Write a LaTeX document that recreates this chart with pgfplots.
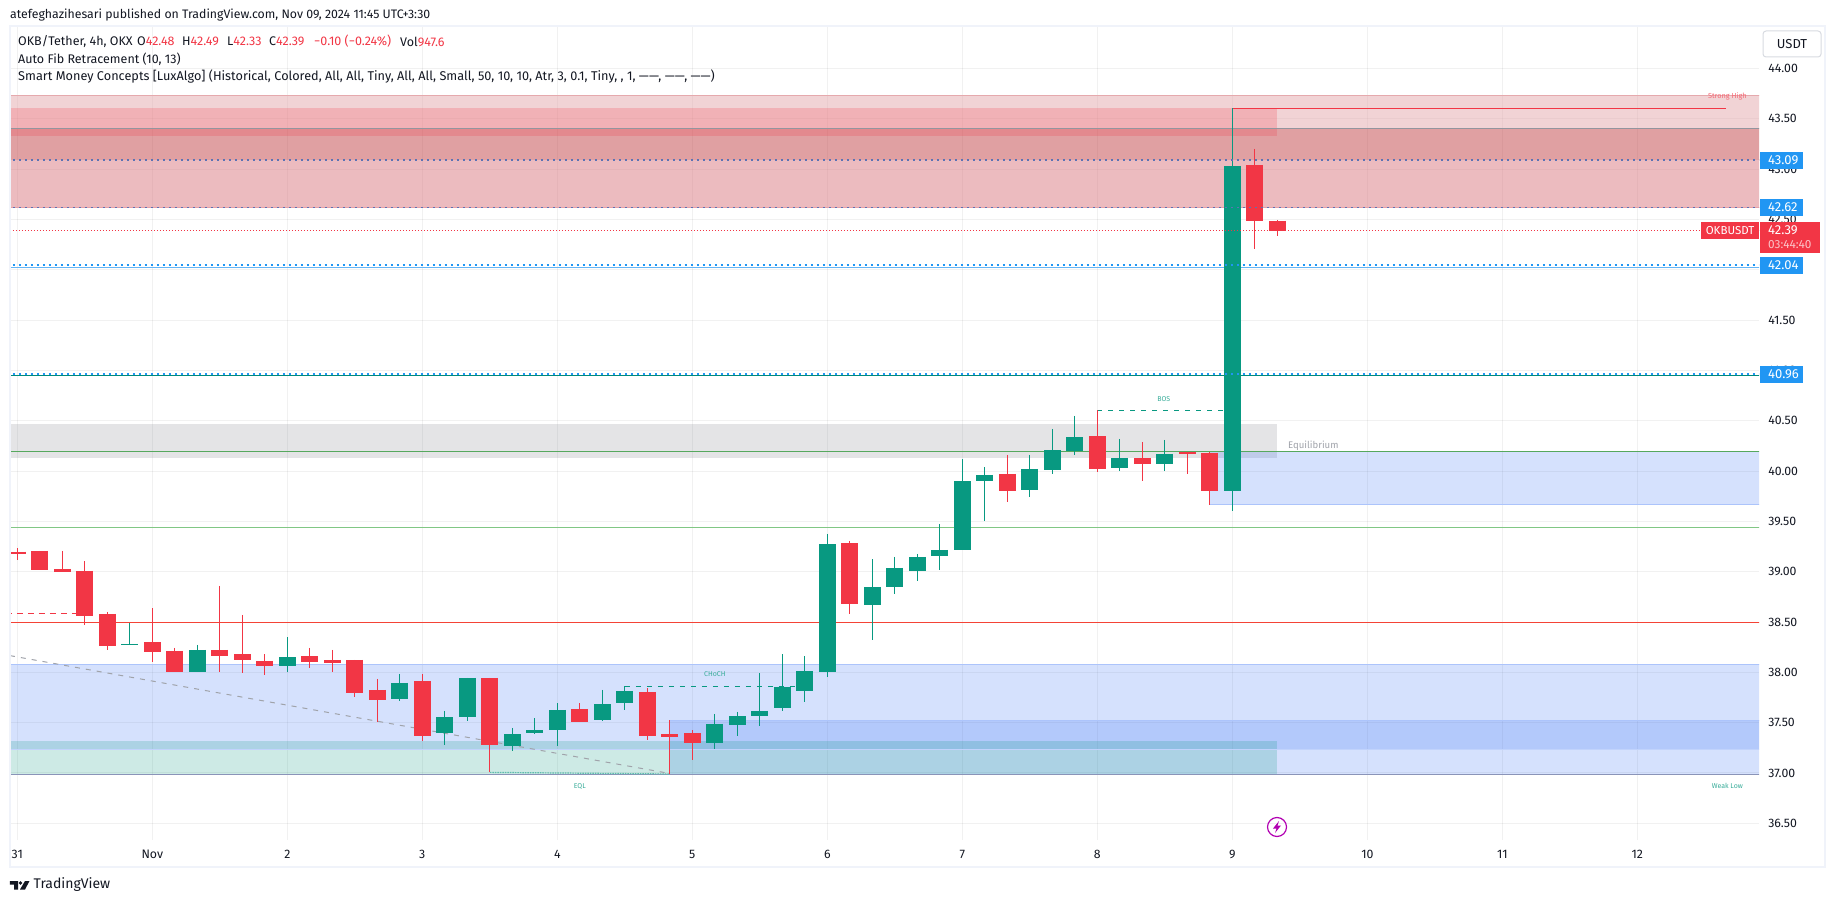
\documentclass[border=0pt]{standalone}
\usepackage{pgfplots}
\usepackage{pgfplotstable}
\usepackage{fontspec}
\pgfplotsset{compat=1.18}
\setmainfont{Fira Sans}
\definecolor{tvred}{HTML}{F23645}
\definecolor{tvgreen}{HTML}{089981}
\definecolor{tvtext}{HTML}{131722}
\definecolor{tvblue}{HTML}{2196F3}
\definecolor{frame}{HTML}{F0F3FA}
\definecolor{zblue}{HTML}{2F6BF5}
\definecolor{zgray}{HTML}{787B86}
\definecolor{lightpink}{HTML}{E5A9AD}
\definecolor{midpink}{HTML}{DB7981}
\definecolor{darkpink}{HTML}{C34347}
\definecolor{eqgreen}{HTML}{56A85E}
\definecolor{lgreen}{HTML}{81C784}
\definecolor{lvred}{HTML}{F44336}
\definecolor{mutedblue}{HTML}{5B73B5}
\definecolor{fibteal}{HTML}{00897B}
\definecolor{fibblue}{HTML}{64B5F6}
\definecolor{lowline}{HTML}{8A94B8}
\pgfplotstableread{
i top bot high low
0 39.199 39.176 39.235 39.116
1 39.206 39.017 39.206 39.017
2 39.027 38.997 39.206 38.997
3 39.007 38.560 39.106 38.470
4 38.580 38.262 38.600 38.222
6 38.301 38.202 38.639 38.103
7 38.212 38.003 38.242 38.003
9 38.222 38.162 38.858 38.003
10 38.182 38.123 38.570 37.993
11 38.113 38.063 38.182 37.974
13 38.162 38.103 38.242 38.043
14 38.123 38.093 38.222 38.003
15 38.123 37.795 38.123 37.755
16 37.825 37.725 37.934 37.507
18 37.914 37.367 37.984 37.318
21 37.944 37.278 37.944 37.006
25 37.636 37.507 37.695 37.507
28 37.805 37.367 37.844 37.328
29 37.387 37.357 37.526 36.987
30 37.397 37.298 37.427 37.129
37 39.285 38.679 39.305 38.580
44 39.971 39.802 40.160 39.693
48 40.348 40.021 40.603 39.991
50 40.130 40.070 40.289 39.901
52 40.189 40.170 40.189 39.971
53 40.180 39.802 40.189 39.663
55 43.041 42.485 43.200 42.206
56 42.485 42.385 42.495 42.336
}\redcandles
\pgfplotstableread{
i top bot high low
5 38.282 38.272 38.490 38.272
8 38.222 38.003 38.272 38.003
12 38.152 38.063 38.351 38.003
17 37.894 37.735 37.984 37.715
19 37.556 37.397 37.616 37.278
20 37.944 37.556 37.944 37.517
22 37.387 37.268 37.447 37.218
23 37.427 37.397 37.546 37.387
24 37.626 37.427 37.695 37.268
26 37.685 37.526 37.825 37.517
27 37.815 37.695 37.861 37.626
31 37.487 37.298 37.586 37.238
32 37.566 37.477 37.606 37.367
33 37.616 37.566 37.993 37.467
34 37.854 37.646 38.182 37.616
35 38.013 37.815 38.162 37.705
36 39.275 38.003 39.375 37.954
38 38.848 38.669 39.126 38.321
39 39.037 38.848 39.146 38.778
40 39.146 39.007 39.176 38.908
41 39.216 39.156 39.474 39.017
42 39.901 39.216 40.120 39.216
43 39.961 39.901 40.040 39.504
45 40.021 39.812 40.160 39.742
46 40.209 40.011 40.418 39.971
47 40.338 40.199 40.547 40.160
49 40.130 40.030 40.319 40.001
51 40.170 40.070 40.309 40.001
54 43.031 39.802 43.604 39.603
}\greencandles
\newcommand\candles[2]{% table, colour
  \addplot[draw=none,no markers,error bars/.cd,y dir=minus,y explicit,error mark=none,
    error bar style={draw=#2,line width=1pt}]
    table[x=i,y=high,y error minus expr=\thisrow{high}-\thisrow{low}]{#1};
  \addplot[draw=none,no markers,error bars/.cd,y dir=minus,y explicit,error mark=none,
    error bar style={draw=#2,line width=17pt}]
    table[x=i,y=top,y error minus expr=\thisrow{top}-\thisrow{bot}]{#1};
}
\newcommand\zone[6]{% x0 x1 y0 y1 colour opacity
  \addplot[draw=none,fill=#5,fill opacity=#6] coordinates {(#1,#3) (#2,#3) (#2,#4) (#1,#4)} --cycle;
}
\newcommand\hl[2]{% value, style
  \addplot[#2] coordinates {(-1,#1) (80,#1)};
}
\newcommand\fs[1]{\fontsize{#1}{#1}\selectfont}
\begin{document}
\begin{tikzpicture}[x=1pt,y=1pt]
\path[use as bounding box,fill=white] (0,0) rectangle (1835,903);
\begin{axis}[
  at={(10pt,63pt)},anchor=south west,scale only axis,width=1749pt,height=813pt,
  xmin=-0.324,xmax=77.41,ymin=36.334,ymax=44.412,
  axis line style={draw=none},major tick length=0pt,
  xtick={0,6,...,72},
  xticklabels={31,Nov,2,3,4,5,6,7,8,9,10,11,12},
  ytick={36.5,37,...,44},
  yticklabel pos=right,
  grid=major,
  major grid style={draw=black,opacity=0.055,line width=1pt},
  tick label style={font=\fs{12.3},text=tvtext,inner sep=0pt},
  xticklabel style={anchor=center,yshift=-14pt},
  yticklabel style={anchor=west,xshift=9pt,/pgf/number format/.cd,fixed,fixed zerofill,precision=2,assume math mode=true},
]
% premium zones
\zone{-1}{80}{43.405}{43.733}{lightpink}{0.5}
\zone{-1}{80}{43.091}{43.405}{darkpink}{0.5}
\zone{-1}{80}{42.620}{43.091}{midpink}{0.5}
\zone{-1}{56}{43.324}{43.607}{tvred}{0.21}
\hl{43.733}{draw=lightpink,line width=1pt}
\hl{42.620}{draw=midpink!70,line width=1pt}
% equilibrium
\zone{-1}{56}{40.130}{40.468}{zgray}{0.2}
% demand zones
\zone{-1}{80}{37.235}{38.080}{zblue}{0.2}
\zone{29}{80}{36.987}{37.526}{zblue}{0.2}
\zone{-1}{56}{36.987}{37.318}{tvgreen}{0.2}
\zone{53}{80}{39.663}{40.189}{zblue}{0.2}
\hl{38.080}{draw=zblue!40,line width=1pt}
\hl{37.235}{draw=zblue!30,line width=0.8pt}
\addplot[draw=zblue!40,line width=1pt] coordinates {(29,37.526) (80,37.526)};
\addplot[draw=zblue!40,line width=1pt] coordinates {(53,39.663) (80,39.663)};
\hl{36.987}{draw=lowline,line width=1pt}
% fib and other levels
\hl{43.405}{draw=zgray!80,line width=1pt}
\hl{42.024}{draw=fibblue,line width=1pt}
\hl{40.951}{draw=fibteal,line width=1pt}
\hl{40.196}{draw=eqgreen,line width=1pt}
\hl{39.441}{draw=lgreen,line width=1pt}
\hl{38.497}{draw=lvred,line width=1pt}
% structure lines
\addplot[draw=tvred,line width=1pt,dash pattern=on 6pt off 5pt] coordinates {(-1,38.586) (3,38.586)};
\addplot[draw=zgray!70,line width=1pt,dash pattern=on 5pt off 6pt] coordinates {(-0.324,38.166) (29,36.995)};
\addplot[draw=tvgreen!65,line width=1.2pt,dash pattern=on 1.5pt off 1pt] coordinates {(21,37.006) (29,36.990)};
\addplot[draw=tvgreen,line width=1pt,dash pattern=on 5pt off 6pt] coordinates {(27,37.861) (35,37.861)};
\addplot[draw=tvgreen,line width=1pt,dash pattern=on 5pt off 6pt] coordinates {(48,40.603) (54,40.603)};
\addplot[draw=tvred,line width=1pt] coordinates {(54,43.605) (75.94,43.605)};
% candles
\candles{\redcandles}{tvred}
\candles{\greencandles}{tvgreen}
% price lines
\hl{43.091}{draw=mutedblue,line width=1.6pt,dash pattern=on 2pt off 4pt}
\hl{42.620}{draw=mutedblue,line width=1.6pt,dash pattern=on 2pt off 4pt}
\hl{42.051}{draw=tvblue,line width=1.8pt,dash pattern=on 2pt off 4pt}
\hl{40.965}{draw=tvblue,line width=1.8pt,dash pattern=on 2pt off 4pt}
\hl{42.392}{draw=tvred,line width=0.9pt,dash pattern=on 1pt off 2pt}
% labels in the chart
\node[font=\fs{7},text=tvgreen!80] at (axis cs:31,37.985) {CHoCH};
\node[font=\fs{7},text=tvgreen!80] at (axis cs:25,36.87) {EQL};
\node[font=\fs{7},text=tvgreen!80] at (axis cs:50.95,40.71) {BOS};
\node[font=\fs{9.6},text=zgray!70] at (axis cs:57.6,40.25) {Equilibrium};
\node[font=\fs{7.3},text=tvred!75] at (axis cs:76,43.72) {Strong High};
\node[font=\fs{7},text=tvgreen!80] at (axis cs:76,36.87) {Weak Low};
\end{axis}
% frame
\draw[frame,line width=2pt] (9.5,877) rectangle (1825,36);
% lightning icon
\draw[draw=violet!60!magenta,line width=1.2pt] (1277,76) circle (9.5);
\fill[violet!60!magenta] (1279,82) -- (1273,74.5) -- (1276.5,74.5) -- (1275,70) -- (1281,77.5) -- (1277.5,77.5) -- cycle;
% USDT button
\draw[draw=frame!90!black,fill=white,line width=1pt,rounded corners=3pt] (1763,872) rectangle (1821,846);
\node[font=\fs{13},text=tvtext] at (1792,858.5) {USDT};
% price tags
\newcommand\bluetag[2]{%
  \fill[tvblue] (1760,#1+8.5) rectangle (1803,#1-8.5);
  \node[anchor=west,inner sep=0pt,font=\fs{13},text=white] at (1768,#1) {#2};}
\bluetag{742.5}{43.09}
\bluetag{695.5}{42.62}
\bluetag{637.5}{42.04}
\bluetag{528.5}{40.96}
\fill[tvred] (1760,681) rectangle (1820,650);
\fill[tvred] (1701,681) rectangle (1759,664);
\node[font=\fs{11.5},text=white] at (1730,672.5) {OKBUSDT};
\node[anchor=west,inner sep=0pt,font=\fs{13},text=white] at (1768,673) {42.39};
\node[anchor=west,inner sep=0pt,font=\fs{11.8},text=white!70!tvred] at (1768,658) {03:44:40};
% header
\node[anchor=west,inner sep=0pt,font=\fs{12.3},text=tvtext] at (10,888) {atefeghazihesari published on TradingView.com, Nov 09, 2024 11:45 UTC+3:30};
\node[anchor=west,inner sep=0pt,font=\fs{12.5},text=tvtext] at (18,861.5) {OKB/Tether, 4h, OKX};
\node[anchor=west,inner sep=0pt,font=\fs{12.5}] at (137,861.5) {\textcolor{tvtext}{O}\textcolor{tvred}{42.48}};
\node[anchor=west,inner sep=0pt,font=\fs{12.5}] at (182,861.5) {\textcolor{tvtext}{H}\textcolor{tvred}{42.49}};
\node[anchor=west,inner sep=0pt,font=\fs{12.5}] at (227,861.5) {\textcolor{tvtext}{L}\textcolor{tvred}{42.33}};
\node[anchor=west,inner sep=0pt,font=\fs{12.5}] at (269,861.5) {\textcolor{tvtext}{C}\textcolor{tvred}{42.39}};
\node[anchor=west,inner sep=0pt,font=\fs{12.5},text=tvred] at (314,861.5) {−0.10 (−0.24\%)};
\node[anchor=west,inner sep=0pt,font=\fs{12.5}] at (400,861.5) {\textcolor{tvtext}{Vol}\textcolor{tvred}{947.6}};
\node[anchor=west,inner sep=0pt,font=\fs{12.5},text=tvtext] at (18,844) {Auto Fib Retracement (10, 13)};
\node[anchor=west,inner sep=0pt,font=\fs{12.7},text=tvtext] at (18,827) {Smart Money Concepts [LuxAlgo] (Historical, Colored, All, All, Tiny, All, All, Small, 50, 10, 10, Atr, 3, 0.1, Tiny, , 1, ——, ——, ——)};
% footer
\fill[tvtext] (9.8,22) -- (18,22) -- (18,13.5) -- (14,13.5) -- (14,18.5) -- (9.8,18.5) -- cycle;
\fill[tvtext] (20.5,20) circle (1.9);
\fill[tvtext] (25,22) -- (29.5,22) -- (25,13.5) -- (20,13.5) -- cycle;
\node[anchor=west,inner sep=0pt,font=\fs{14},text=tvtext] at (33.5,18) {TradingView};
\end{tikzpicture}
\end{document}
